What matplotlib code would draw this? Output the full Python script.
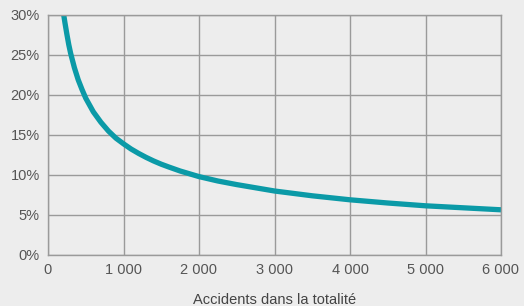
import matplotlib
matplotlib.use("Agg")
import matplotlib.pyplot as plt
from matplotlib.ticker import FuncFormatter

# values
accidents = [200, 225, 250, 275, 300, 350, 400, 450, 500, 600, 700, 800, 900, 1000,
             1100, 1200, 1300, 1400, 1500, 1600, 1750, 2000, 2250, 2500, 2750, 3000,
             3500, 4000, 4500, 5000, 5500, 6000]
share = [30.5, 29.0, 27.6, 26.3, 25.2, 23.4, 21.9, 20.7, 19.6, 17.9, 16.6, 15.5, 14.6, 13.9,
         13.25, 12.7, 12.2, 11.75, 11.35, 11.0, 10.5, 9.8, 9.25, 8.8, 8.4, 8.0,
         7.4, 6.9, 6.5, 6.15, 5.9, 5.65]

x_ticks = [0, 1000, 2000, 3000, 4000, 5000, 6000]
y_ticks = [0, 5, 10, 15, 20, 25, 30]

plt.rcParams['font.family'] = ['Liberation Sans', 'DejaVu Sans']

bg = '#ededed'
fig = plt.figure(figsize=(5.24, 3.06), dpi=100, facecolor=bg)
ax = fig.add_axes([48/524, 51/306, 453/524, 240/306], facecolor=bg)

ax.plot(accidents, share, color='#0b9aa7', linewidth=3.8, solid_capstyle='butt',
        solid_joinstyle='round')

ax.set_xlim(0, 6000)
ax.set_ylim(0, 30)
ax.set_xticks(x_ticks)
ax.set_yticks(y_ticks)
ax.xaxis.set_major_formatter(FuncFormatter(lambda v, p: "{:,}".format(int(v)).replace(",", " ")))
ax.yaxis.set_major_formatter(FuncFormatter(lambda v, p: "{}%".format(int(v))))
ax.grid(True, color='#9a9a9a', linewidth=1.0)
ax.set_axisbelow(True)
for s in ax.spines.values():
    s.set_color('#9a9a9a')
    s.set_linewidth(1.0)
ax.tick_params(length=0, labelsize=10.5, labelcolor='#555555', pad=6)
ax.tick_params(axis='x', pad=6)
ax.set_xlabel("Accidents dans la totalité", fontsize=10.5, color='#444444', labelpad=11)

fig.savefig("out.png", dpi=100, facecolor=bg)
